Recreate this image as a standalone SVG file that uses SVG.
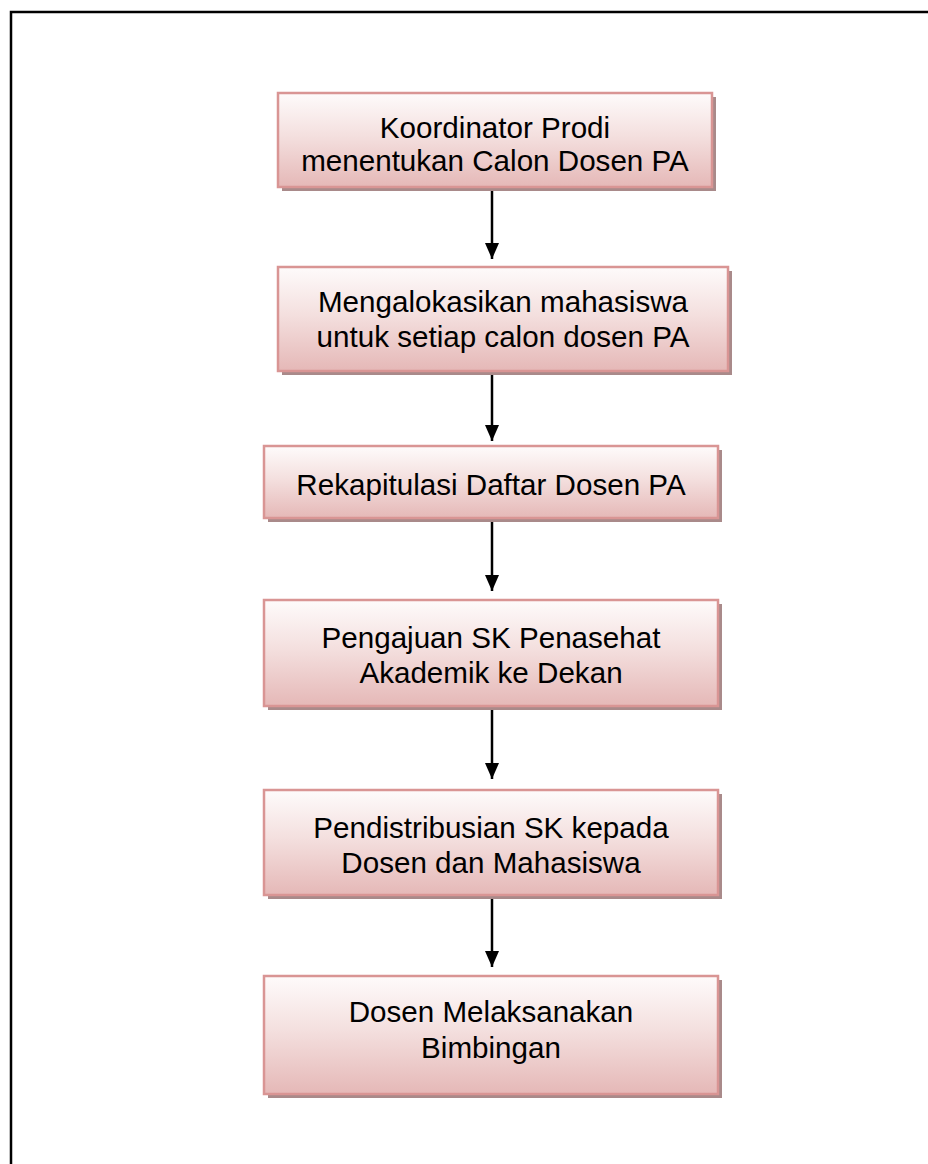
<svg xmlns="http://www.w3.org/2000/svg" width="928" height="1164" viewBox="0 0 928 1164">
<defs>
<linearGradient id="g" x1="0" y1="0" x2="0" y2="1">
<stop offset="0" stop-color="#fefbfb"/>
<stop offset="0.45" stop-color="#f4e0df"/>
<stop offset="1" stop-color="#e5b8b7"/>
</linearGradient>
<marker id="ah" markerWidth="16" markerHeight="14" refX="16" refY="7" orient="auto" markerUnits="userSpaceOnUse" viewBox="0 0 16 14">
<path d="M0,0 L16,7 L0,14 Z" fill="#000"/>
</marker>
</defs>
<style>
.sh{fill:#a98a8a;}
.bx{fill:url(#g);stroke:#d99594;stroke-width:2.5;}
.t{font-family:"Liberation Sans",Arial,sans-serif;font-size:29.6px;fill:#000;text-anchor:middle;}
.c{stroke:#000;stroke-width:2.5;fill:none;}
</style>
<rect x="0" y="0" width="928" height="1164" fill="#fff"/>
<path d="M11,1164 V12 H928" fill="none" stroke="#000" stroke-width="2.5"/>
<g id="n1">
<rect class="sh" x="282" y="97" width="434" height="94"/>
<rect class="bx" x="278" y="93" width="434" height="94"/>
<text class="t" x="495" y="138">Koordinator Prodi</text>
<text class="t" x="495" y="171">menentukan Calon Dosen PA</text>
</g>
<g id="n2">
<rect class="sh" x="282" y="271" width="450" height="104"/>
<rect class="bx" x="278" y="267" width="450" height="104"/>
<text class="t" x="503" y="312">Mengalokasikan mahasiswa</text>
<text class="t" x="503" y="347">untuk setiap calon dosen PA</text>
</g>
<g id="n3">
<rect class="sh" x="268" y="450" width="454" height="72"/>
<rect class="bx" x="264" y="446" width="454" height="72"/>
<text class="t" x="491" y="495">Rekapitulasi Daftar Dosen PA</text>
</g>
<g id="n4">
<rect class="sh" x="268" y="604" width="454" height="106"/>
<rect class="bx" x="264" y="600" width="454" height="106"/>
<text class="t" x="491" y="648">Pengajuan SK Penasehat</text>
<text class="t" x="491" y="683">Akademik ke Dekan</text>
</g>
<g id="n5">
<rect class="sh" x="268" y="794" width="454" height="105"/>
<rect class="bx" x="264" y="790" width="454" height="105"/>
<text class="t" x="491" y="838">Pendistribusian SK kepada</text>
<text class="t" x="491" y="873">Dosen dan Mahasiswa</text>
</g>
<g id="n6">
<rect class="sh" x="268" y="980" width="454" height="118"/>
<rect class="bx" x="264" y="976" width="454" height="118"/>
<text class="t" x="491" y="1022">Dosen Melaksanakan</text>
<text class="t" x="491" y="1058">Bimbingan</text>
</g>
<g id="connectors">
<line class="c" x1="492" y1="191" x2="492" y2="259" marker-end="url(#ah)"/>
<line class="c" x1="492" y1="375" x2="492" y2="441" marker-end="url(#ah)"/>
<line class="c" x1="492" y1="522" x2="492" y2="591" marker-end="url(#ah)"/>
<line class="c" x1="492" y1="710" x2="492" y2="779" marker-end="url(#ah)"/>
<line class="c" x1="492" y1="899" x2="492" y2="967" marker-end="url(#ah)"/>
</g>
</svg>
